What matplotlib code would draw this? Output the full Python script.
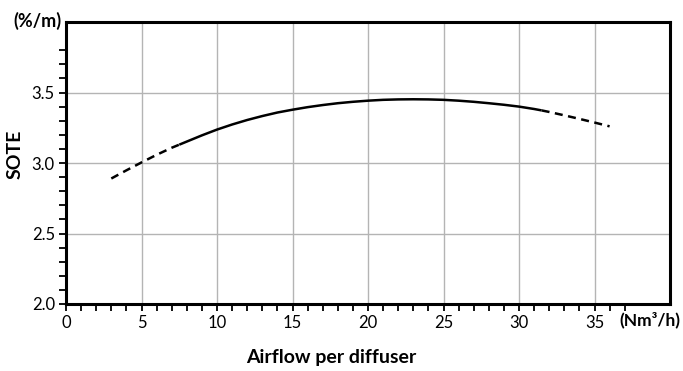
import matplotlib
matplotlib.use("Agg")
from matplotlib import pyplot as plt
from matplotlib.ticker import FixedLocator

plt.rcParams['font.family'] = ['Lato', 'DejaVu Sans']

# curve: dashed start, solid middle, dashed end
x_low = [3, 4, 5, 6, 7, 7.5]
y_low = [2.89, 2.948, 3.004, 3.058, 3.108, 3.13]
x_mid = [7.5, 8, 9, 10, 11, 12, 13, 14, 15, 16, 17, 18, 19, 20, 21, 22, 23,
         24, 25, 26, 27, 28, 29, 30, 31, 31.5]
y_mid = [3.13, 3.152, 3.196, 3.237, 3.273, 3.305, 3.333, 3.358, 3.378, 3.396,
         3.411, 3.424, 3.434, 3.442, 3.448, 3.451, 3.452, 3.451, 3.448, 3.442,
         3.434, 3.424, 3.413, 3.40, 3.383, 3.373]
x_high = [31.5, 32, 33, 34, 35, 36]
y_high = [3.373, 3.362, 3.338, 3.313, 3.287, 3.26]

x_major = [0, 5, 10, 15, 20, 25, 30, 35]
x_minor = list(range(0, 38))
y_major = [2.0, 2.5, 3.0, 3.5]
y_minor = [2.0 + 0.1 * i for i in range(19)]

fig = plt.figure(figsize=(6.83, 3.71), dpi=100)
ax = fig.add_axes([66 / 683, 67 / 371, 604 / 683, 282 / 371])

ax.plot(x_low, y_low, color='black', lw=1.8, dashes=(3.2, 2.2))
ax.plot(x_mid, y_mid, color='black', lw=1.8, solid_capstyle='butt')
ax.plot(x_high, y_high, color='black', lw=1.8, dashes=(3.2, 2.2))

ax.set_xlim(0, 40)
ax.set_ylim(2.0, 4.0)
ax.xaxis.set_major_locator(FixedLocator(x_major))
ax.xaxis.set_minor_locator(FixedLocator(x_minor))
ax.yaxis.set_major_locator(FixedLocator(y_major))
ax.yaxis.set_minor_locator(FixedLocator(y_minor))
ax.set_xticklabels([str(v) for v in x_major])
ax.set_yticklabels(['%.1f' % v for v in y_major])

ax.grid(True, which='major', color='#b4b4b4', lw=1.0)
ax.set_axisbelow(True)
ax.tick_params(which='both', direction='out', length=5, width=1.3,
               labelsize=12, pad=3)
for s in ax.spines.values():
    s.set_linewidth(2.2)

fig.text(15 / 683, 1 - 154 / 371, 'SOTE', fontsize=14, fontweight='bold',
         rotation=90, ha='center', va='center')
fig.text(331 / 683, 1 - 357 / 371, 'Airflow per diffuser', fontsize=14,
         fontweight='bold', ha='center', va='center')
fig.text(62 / 683, 1 - 21 / 371, '(%/m)', fontsize=13, fontweight='bold',
         ha='right', va='center')
fig.text(650 / 683, 1 - 320 / 371, '(Nm³/h)', fontsize=12.5, fontweight='bold',
         ha='center', va='center')

fig.savefig('out.png', dpi=100)
